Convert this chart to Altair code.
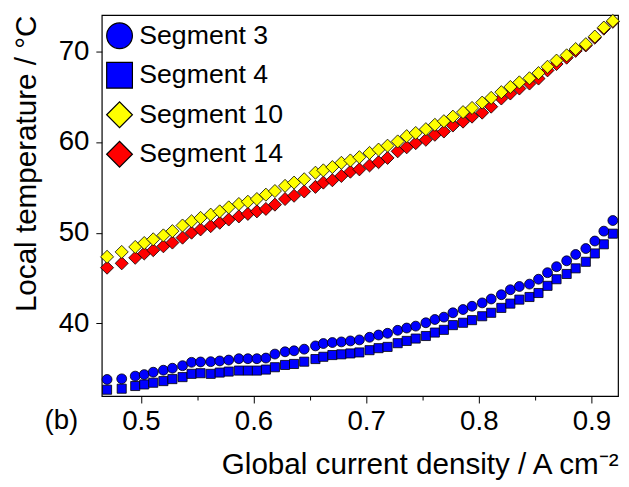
import altair as alt
import pandas as pd

series_names = ["Segment 3", "Segment 4", "Segment 10", "Segment 14"]

current_density = [0.470, 0.483, 0.495, 0.503, 0.511, 0.520, 0.528, 0.537, 0.545, 0.553,
                   0.562, 0.570, 0.578, 0.587, 0.595, 0.603, 0.611, 0.619, 0.628, 0.636,
                   0.645, 0.655, 0.662, 0.670, 0.678, 0.686, 0.694, 0.703, 0.711, 0.719,
                   0.728, 0.736, 0.744, 0.753, 0.761, 0.769, 0.777, 0.786, 0.794, 0.803,
                   0.811, 0.820, 0.828, 0.836, 0.845, 0.853, 0.861, 0.869, 0.878, 0.886,
                   0.895, 0.903, 0.911, 0.919]

seg3 = [33.83, 33.90, 34.20, 34.37, 34.63, 34.85, 35.07, 35.35, 35.72, 35.76,
        35.79, 35.87, 35.97, 36.12, 36.12, 36.12, 36.19, 36.63, 36.88, 36.99,
        37.17, 37.53, 37.79, 37.90, 37.97, 38.08, 38.19, 38.48, 38.73, 38.92,
        39.25, 39.50, 39.71, 40.08, 40.44, 40.70, 41.18, 41.54, 41.90, 42.27,
        42.70, 43.17, 43.72, 44.08, 44.34, 44.88, 45.60, 46.26, 46.91, 47.61,
        48.26, 49.09, 50.18, 51.35]

seg4 = [32.70, 32.81, 33.11, 33.28, 33.47, 33.65, 33.87, 34.09, 34.45, 34.52,
        34.45, 34.59, 34.70, 34.81, 34.81, 34.81, 34.92, 35.18, 35.43, 35.54,
        35.79, 36.08, 36.33, 36.52, 36.60, 36.70, 36.81, 37.06, 37.28, 37.42,
        37.83, 38.08, 38.34, 38.62, 39.00, 39.30, 39.82, 40.08, 40.37, 40.80,
        41.18, 41.72, 42.19, 42.63, 42.92, 43.36, 44.15, 44.88, 45.46, 46.08,
        46.80, 47.72, 48.73, 49.90]

seg10 = [47.35, 47.89, 48.44, 48.87, 49.28, 49.71, 50.18, 50.80, 51.27, 51.64,
         52.00, 52.36, 52.80, 53.17, 53.42, 53.72, 54.20, 54.60, 55.17, 55.53,
         55.90, 56.62, 56.88, 57.24, 57.71, 57.97, 58.33, 58.80, 59.17, 59.60,
         60.07, 60.65, 61.00, 61.42, 61.90, 62.30, 62.80, 63.30, 63.76, 64.35,
         64.87, 65.50, 66.07, 66.58, 67.03, 67.60, 68.30, 68.98, 69.56, 70.25,
         70.79, 71.63, 72.62, 73.35]

seg14 = [46.15, 46.63, 47.24, 47.72, 48.08, 48.51, 48.92, 49.46, 50.01, 50.37,
         50.73, 51.10, 51.46, 51.80, 52.08, 52.36, 52.63, 53.10, 53.72, 54.08,
         54.55, 55.06, 55.53, 55.79, 56.26, 56.73, 56.99, 57.42, 57.78, 58.25,
         58.98, 59.42, 59.88, 60.25, 60.80, 61.16, 61.82, 62.25, 62.80, 63.24,
         63.90, 64.80, 65.35, 65.90, 66.45, 67.00, 67.90, 68.60, 69.30, 70.05,
         70.65, 71.50, 72.50, 73.25]

x_ticks = [0.5, 0.55, 0.6, 0.65, 0.7, 0.75, 0.8, 0.85, 0.9]
y_ticks = [40, 50, 60, 70]
panel_label = ["(b)"]

shape_range = ["circle", "square", "diamond", "diamond"]
fill_range = ["#0000ff", "#0000ff", "#ffff00", "#ff0000"]
stroke_range = ["black", "black", "black", "black"]
marker_size = {"Segment 3": 100, "Segment 4": 85, "Segment 10": 175, "Segment 14": 175}

draw_order = [("Segment 4", seg4), ("Segment 3", seg3),
              ("Segment 14", seg14), ("Segment 10", seg10)]
rows = []
for name, vals in draw_order:
    for xv, yv in zip(current_density, vals):
        rows.append({"j": xv, "T": yv, "series": name, "sz": marker_size[name]})
df = pd.DataFrame(rows)

FONT = "Liberation Sans"
major_test = "round(datum.value*100) % 10 == 0"

legend_def = alt.Legend(
    orient="none", legendX=4, legendY=7, title=None,
    labelFont=FONT, labelFontSize=27, labelColor="black",
    symbolSize=680, symbolStrokeWidth=1.2,
    symbolOpacity=1, rowPadding=8, labelOffset=6, padding=0,
)

points = alt.Chart(df).mark_point(
    filled=True, strokeWidth=0.8, opacity=1
).encode(
    x=alt.X("j:Q",
            scale=alt.Scale(domain=[0.4653, 0.9236], nice=False, zero=False),
            axis=alt.Axis(values=x_ticks, format=".1f",
                          labelExpr=f"{major_test} ? datum.label : ''",
                          tickSize={"condition": {"test": major_test, "value": 7}, "value": 4},
                          labelPadding=5, labelOverlap=False, labelFlush=False,
                          title="Global current density / A cm\u207b\u00b2",
                          titleAnchor="end", titlePadding=14)),
    y=alt.Y("T:Q",
            scale=alt.Scale(domain=[32, 74], nice=False, zero=False),
            axis=alt.Axis(values=y_ticks, tickSize=6, labelPadding=7,
                          title="Local temperature / \u00b0C",
                          titleAnchor="end", titlePadding=17)),
    shape=alt.Shape("series:N", scale=alt.Scale(domain=series_names, range=shape_range),
                    legend=legend_def),
    fill=alt.Fill("series:N", scale=alt.Scale(domain=series_names, range=fill_range),
                  legend=legend_def),
    stroke=alt.Stroke("series:N", scale=alt.Scale(domain=series_names, range=stroke_range),
                      legend=legend_def),
    size=alt.Size("sz:Q", scale=None),
)

label = alt.Chart(pd.DataFrame({"t": panel_label})).mark_text(
    font=FONT, fontSize=28, color="black", align="center", baseline="middle"
).encode(x=alt.value(-41), y=alt.value(411), text="t:N")

chart = alt.layer(points, label).properties(
    width=523, height=386,
    padding={"left": 95, "top": 4, "right": 3, "bottom": 90},
    autosize=alt.AutoSizeParams(type="none"),
).configure_view(
    stroke="black", strokeWidth=1.2
).configure_axis(
    domain=False, grid=False,
    labelFont=FONT, labelFontSize=28, labelColor="black",
    titleFont=FONT, titleFontSize=30, titleFontWeight="normal", titleColor="black",
    tickColor="black", tickWidth=1,
)

chart.save("out.html", embed_options={"renderer": "svg", "actions": False})
